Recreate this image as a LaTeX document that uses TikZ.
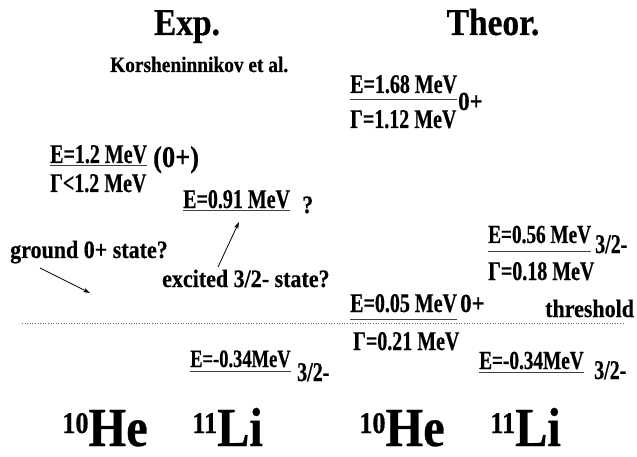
\documentclass[tikz,border=0pt]{standalone}
\usepackage{fontspec}
\setmainfont{Liberation Serif}
\newfontfamily\lblfont{Liberation Serif}[FakeStretch=0.88, BoldFeatures={FakeBold=0.5}]
\newfontfamily\valfont{Liberation Serif}[FakeStretch=0.74, BoldFeatures={FakeBold=0.5}]
\usetikzlibrary{arrows.meta}
\tikzset{
  title/.style={inner sep=0pt, anchor=base, font=\lblfont\bfseries\fontsize{38}{38}\selectfont},
  lbl/.style={inner sep=0pt, anchor=base west, font=\lblfont\bfseries\fontsize{25}{25}\selectfont},
  val/.style={inner sep=0pt, anchor=base west, font=\valfont\bfseries\fontsize{27}{27}\selectfont},
  nucl/.style={inner sep=0pt, anchor=base west, font=\lblfont\bfseries\fontsize{55}{55}\selectfont},
  bar/.style={line width=1pt, black!75},
  pointer/.style={-{Stealth[length=7pt,width=4.5pt]}, line width=0.8pt}
}
\newcommand{\iso}[2]{\raisebox{13pt}{\fontsize{30}{30}\selectfont #1}#2}
\begin{document}
\begin{tikzpicture}[x=1pt, y=-1pt]
    \useasboundingbox (0,0) rectangle (637,457);
    % headings
    \node[title] (exp) at (187,35) {Exp.};
    \node[title] (theor) at (493,35) {Theor.};
    \node[lbl, font=\lblfont\bfseries\fontsize{22}{22}\selectfont] (korsh) at (110,72) {Korsheninnikov et al.};
    % experiment
    \node[val] (e12) at (50,163) {E=1.2 MeV};
    \node[val] (g12) at (50,192) {Γ<1.2 MeV};
    \node[lbl, font=\lblfont\bfseries\fontsize{30}{30}\selectfont] (s12) at (153,167) {(0+)};
    \draw[bar] ([yshift=-3pt]e12.base west) -- ([yshift=-3pt]e12.base east);
    \node[val] (e091) at (183,208) {E=0.91 MeV};
    \node[lbl] (q091) at (302,213) {?};
    \draw[bar] ([yshift=-3pt]e091.base west) -- ([yshift=-3pt]e091.base east);
    \node[lbl] (gnd) at (10,258) {ground 0+ state?};
    \node[lbl] (exc) at (162,287) {excited 3/2- state?};
    \coordinate (gndend) at (90,293);
    \draw[pointer] ([xshift=30pt, yshift=-10pt]gnd.base west) -- (gndend);
    \draw[pointer] ([xshift=56pt, yshift=20pt]exc.base west) -- ([xshift=56pt, yshift=-14pt]e091.base west);
    \node[val, font=\valfont\bfseries\fontsize{25}{25}\selectfont] (e034a) at (190,367) {E=-0.34MeV};
    \node[val] (s034a) at (297,381) {3/2-};
    \draw[bar] ([yshift=-4pt]e034a.base west) -- ([yshift=-4pt]e034a.base east);
    % theory
    \node[val] (e168) at (350,93) {E=1.68 MeV};
    \node[val] (g168) at (350,128) {Γ=1.12 MeV};
    \node[lbl, font=\lblfont\bfseries\fontsize{26}{26}\selectfont] (s168) at (458,110) {0+};
    \draw[bar] ([yshift=-7pt]e168.base west) -- ([yshift=-7pt]e168.base east);
    \node[val, font=\valfont\bfseries\fontsize{26}{26}\selectfont] (e056) at (488,243) {E=0.56 MeV};
    \node[val] (g056) at (488,280) {Γ=0.18 MeV};
    \node[val] (s056) at (595,253) {3/2-};
    \draw[bar] ([yshift=-8pt]e056.base west) -- ([yshift=-8pt]e056.base east);
    \node[val] (e005) at (350,312) {E=0.05 MeV};
    \node[val] (g005) at (353,350) {Γ=0.21 MeV};
    \node[lbl, font=\lblfont\bfseries\fontsize{26}{26}\selectfont] (s005) at (460,312) {0+};
    \draw[bar] ([yshift=-7pt]e005.base west) -- ([yshift=-7pt]e005.base east);
    \node[val, font=\valfont\bfseries\fontsize{26}{26}\selectfont] (e034b) at (479,369) {E=-0.34MeV};
    \node[val] (s034b) at (594,379) {3/2-};
    \draw[bar] ([yshift=-3pt]e034b.base west) -- ([yshift=-3pt]e034b.base east);
    % threshold
    \node[lbl] (thr) at (545,317) {threshold};
    \coordinate (thra) at (22,323);
    \coordinate (thrb) at (625,323);
    \draw[dotted, line width=0.6pt, black!60] (thra) -- (thrb);
    % nuclei
    \node[nucl] (he1) at (62,446) {\iso{10}{He}};
    \node[nucl] (li1) at (192,446) {\iso{11}{Li}};
    \node[nucl] (he2) at (359,446) {\iso{10}{He}};
    \node[nucl] (li2) at (490,446) {\iso{11}{Li}};
\end{tikzpicture}
\end{document}
